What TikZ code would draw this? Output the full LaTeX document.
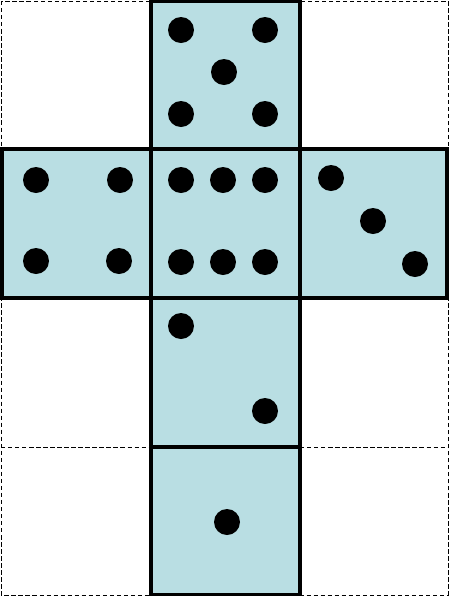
\documentclass[tikz,border=0pt]{standalone}
\definecolor{facefill}{HTML}{B9DEE3}
\tikzset{
  facebox/.style={fill=facefill, draw=black, line width=1.9pt},
  pip/.style={fill=black, draw=none},
  guide/.style={draw=black, line width=0.5pt, dash pattern=on 2.5pt off 1.5pt}
}
\begin{document}
\begin{tikzpicture}[x=0.02cm, y=-0.02cm]
\useasboundingbox (0,0) rectangle (449,596);
% dashed guide grid
\draw[guide] (1,1) rectangle (448,595);
\draw[guide] (1,447) -- (151,447);
\draw[guide] (300,447) -- (448,447);
% faces
\draw[facebox] (151,1) rectangle (300,149);
\draw[facebox] (2,149) rectangle (151,298);
\draw[facebox] (151,149) rectangle (300,298);
\draw[facebox] (300,149) rectangle (447,298);
\draw[facebox] (151,298) rectangle (300,447);
\draw[facebox] (151,447) rectangle (300,595);
% pips: top (5)
\foreach \p in {(181,30),(265,30),(224,72),(181,114),(265,114)} \fill[pip] \p circle (13);
% left (4)
\foreach \p in {(36,180),(120,180),(36,261),(119,261)} \fill[pip] \p circle (13);
% centre (6)
\foreach \p in {(181,180),(223,180),(265,180),(181,262),(223,262),(265,262)} \fill[pip] \p circle (13);
% right (3)
\foreach \p in {(331,178),(373,221),(415,264)} \fill[pip] \p circle (13);
% below centre (2)
\foreach \p in {(181,326),(265,411)} \fill[pip] \p circle (13);
% bottom (1)
\fill[pip] (227,522) circle (13);
\end{tikzpicture}
\end{document}
